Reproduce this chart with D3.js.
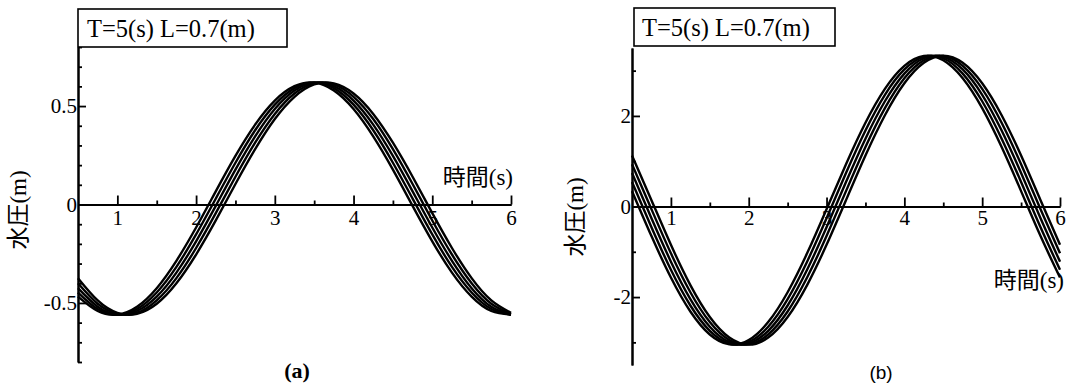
<!DOCTYPE html>
<html>
<head>
<meta charset="utf-8">
<script src="https://cdn.jsdelivr.net/npm/d3@7"></script>
<style>
  html, body { margin: 0; padding: 0; background: #fff; }
  svg { display: block; }
  .serif { font-family: "Liberation Serif", "Noto Sans CJK JP", serif; }
  .sans { font-family: "Liberation Sans", "Noto Sans CJK JP", sans-serif; }
</style>
</head>
<body>
<svg id="chart" width="1072" height="384"></svg>
<script>
// Sampling times (s), shared by both panels
const times = [0.5, 0.75, 1.0, 1.25, 1.5, 1.75, 2.0, 2.25, 2.5, 2.75, 3.0, 3.25,
               3.5, 3.75, 4.0, 4.25, 4.5, 4.75, 5.0, 5.25, 5.5, 5.75, 6.0];

// Panel (a): water pressure (m), five gauges
const pressureA1 = [-0.468,-0.541,-0.559,-0.519,-0.425,-0.286,-0.117,0.067,0.247,0.406,0.528,0.601,0.619,0.579,0.485,0.346,0.177,-0.007,-0.187,-0.346,-0.468,-0.541,-0.559];
const pressureA2 = [-0.447,-0.531,-0.560,-0.531,-0.447,-0.317,-0.152,0.030,0.212,0.377,0.507,0.591,0.620,0.591,0.507,0.377,0.212,0.030,-0.152,-0.317,-0.447,-0.531,-0.560];
const pressureA3 = [-0.425,-0.519,-0.559,-0.541,-0.468,-0.346,-0.187,-0.007,0.177,0.346,0.485,0.579,0.619,0.601,0.528,0.406,0.247,0.067,-0.117,-0.286,-0.425,-0.519,-0.559];
const pressureA4 = [-0.400,-0.504,-0.555,-0.550,-0.487,-0.374,-0.221,-0.044,0.141,0.314,0.460,0.564,0.615,0.610,0.547,0.434,0.281,0.104,-0.081,-0.254,-0.400,-0.504,-0.555];
const pressureA5 = [-0.374,-0.487,-0.550,-0.555,-0.504,-0.400,-0.254,-0.081,0.104,0.281,0.434,0.547,0.610,0.615,0.564,0.460,0.314,0.141,-0.044,-0.221,-0.374,-0.487,-0.550];

// Panel (b): water pressure (m), five gauges
const pressureB1 = [0.340,-0.653,-1.569,-2.318,-2.826,-3.044,-2.950,-2.553,-1.893,-1.034,-0.060,0.933,1.849,2.598,3.106,3.324,3.230,2.833,2.173,1.314,0.340,-0.653,-1.569];
const pressureB2 = [0.540,-0.458,-1.397,-2.186,-2.746,-3.025,-2.994,-2.655,-2.044,-1.218,-0.260,0.738,1.677,2.466,3.026,3.305,3.274,2.935,2.324,1.498,0.540,-0.458,-1.397];
const pressureB3 = [0.738,-0.260,-1.218,-2.044,-2.655,-2.994,-3.025,-2.746,-2.186,-1.397,-0.458,0.540,1.498,2.324,2.935,3.274,3.305,3.026,2.466,1.677,0.738,-0.260,-1.218];
const pressureB4 = [0.933,-0.060,-1.034,-1.893,-2.553,-2.950,-3.044,-2.826,-2.318,-1.569,-0.653,0.340,1.314,2.173,2.833,3.230,3.324,3.106,2.598,1.849,0.933,-0.060,-1.034];
const pressureB5 = [1.126,0.140,-0.846,-1.735,-2.441,-2.894,-3.050,-2.894,-2.441,-1.735,-0.846,0.140,1.126,2.015,2.721,3.174,3.330,3.174,2.721,2.015,1.126,0.140,-0.846];

// Axis ticks and labels
const xTicks = [1, 2, 3, 4, 5, 6];
const xMinorTicks = [1.5, 2.5, 3.5, 4.5, 5.5];
const yTicksA = [-0.5, 0, 0.5];
const yTickLabelsA = ["-0.5", "0", "0.5"];
const yMinorTicksA = [-0.8,-0.7,-0.6,-0.4,-0.3,-0.2,-0.1,0.1,0.2,0.3,0.4,0.6,0.7,0.8];
const yTicksB = [-2, 0, 2];
const yTickLabelsB = ["-2", "0", "2"];
const yMinorTicksB = [-3, -1, 1, 3];

const titleText = "T=5(s) L=0.7(m)";
const yTitle = "水圧(m)";
const xTitle = "時間(s)";

const svg = d3.select("#chart");

function drawPanel(cfg) {
  const g = svg.append("g");
  const x = d3.scaleLinear().domain([0.5, 6]).range(cfg.xRange);
  const y = d3.scaleLinear().domain(cfg.yDomain).range(cfg.yRange);
  const x0 = cfg.xRange[0];
  const yZero = y(0);

  // curves
  const line = d3.line()
    .x((d, i) => x(times[i]))
    .y(d => y(d))
    .curve(d3.curveNatural);
  g.append("g").selectAll("path").data(cfg.series).join("path")
    .attr("d", line)
    .attr("fill", "none")
    .attr("stroke", "#000")
    .attr("stroke-width", 2.4);

  // y axis: major ticks with labels, minor ticks without
  const yAxis = d3.axisLeft(y).tickValues(cfg.yTicks)
    .tickFormat((d, i) => cfg.yLabels[i])
    .tickSizeInner(-8).tickSizeOuter(0).tickPadding(cfg.yPad);
  const gy = g.append("g").attr("transform", `translate(${x0},0)`).call(yAxis);
  const yMinor = d3.axisLeft(y).tickValues(cfg.yMinor).tickFormat("")
    .tickSizeInner(-4).tickSizeOuter(0);
  const gym = g.append("g").attr("transform", `translate(${x0},0)`).call(yMinor);

  // x axis along zero line, ticks pointing up
  const xAxis = d3.axisBottom(x).tickValues(xTicks).tickFormat(d3.format("d"))
    .tickSizeInner(-9).tickSizeOuter(0).tickPadding(cfg.xPad);
  const gx = g.append("g").attr("transform", `translate(0,${yZero})`).call(xAxis);
  const xMinor = d3.axisBottom(x).tickValues(xMinorTicks).tickFormat("")
    .tickSizeInner(-4).tickSizeOuter(0);
  const gxm = g.append("g").attr("transform", `translate(0,${yZero})`).call(xMinor);

  [gy, gym, gx, gxm].forEach(a => {
    a.select(".domain").attr("stroke", "#000").attr("stroke-width", 2);
    a.selectAll(".tick line").attr("stroke", "#000").attr("stroke-width", 1.8);
    a.selectAll(".tick text").attr("fill", "#000")
      .attr("class", "serif").style("font-size", "21px").attr("font-family", null);
  });

  // title box resting on top of the y axis
  const bx = cfg.box;
  g.append("rect").attr("x", bx[0]).attr("y", bx[1]).attr("width", bx[2]).attr("height", bx[3])
    .attr("fill", "#fff").attr("stroke", "#000").attr("stroke-width", 1.6);
  g.append("text").attr("class", "serif").attr("x", bx[0] + cfg.titleDx).attr("y", bx[1] + 28)
    .style("font-size", "24.5px").text(titleText);

  // axis titles
  g.append("text").attr("class", "serif")
    .attr("transform", `translate(${cfg.yTitlePos[0]},${cfg.yTitlePos[1]}) rotate(-90)`)
    .attr("text-anchor", "middle").style("font-size", "23px").text(yTitle);
  g.append("text").attr("class", "serif")
    .attr("x", cfg.xTitlePos[0]).attr("y", cfg.xTitlePos[1])
    .attr("text-anchor", "end").style("font-size", "23px").text(xTitle);

  // panel caption
  g.append("text").attr("class", cfg.captionClass)
    .attr("x", cfg.captionPos[0]).attr("y", cfg.captionPos[1])
    .attr("text-anchor", "middle").style("font-size", cfg.captionSize)
    .style("font-weight", cfg.captionWeight).text(cfg.caption);
}

drawPanel({
  xRange: [78, 511], yDomain: [-0.8, 0.8], yRange: [362, 47],
  series: [pressureA1, pressureA2, pressureA3, pressureA4, pressureA5],
  yTicks: yTicksA, yLabels: yTickLabelsA, yMinor: yMinorTicksA, yPad: 1, xPad: 6,
  box: [78, 9, 209, 38], titleDx: 9,
  yTitlePos: [26, 210], xTitlePos: [513, 185],
  caption: "(a)", captionPos: [297, 378], captionClass: "serif", captionWeight: "bold", captionSize: "22px"
});

drawPanel({
  xRange: [632, 1060], yDomain: [-3.5, 3.5], yRange: [365, 48],
  series: [pressureB1, pressureB2, pressureB3, pressureB4, pressureB5],
  yTicks: yTicksB, yLabels: yTickLabelsB, yMinor: yMinorTicksB, yPad: 1, xPad: 4,
  box: [634, 8, 201, 38], titleDx: 8,
  yTitlePos: [583, 217], xTitlePos: [1064, 288],
  caption: "(b)", captionPos: [881, 379], captionClass: "sans", captionWeight: "normal", captionSize: "19px"
});
</script>
</body>
</html>
